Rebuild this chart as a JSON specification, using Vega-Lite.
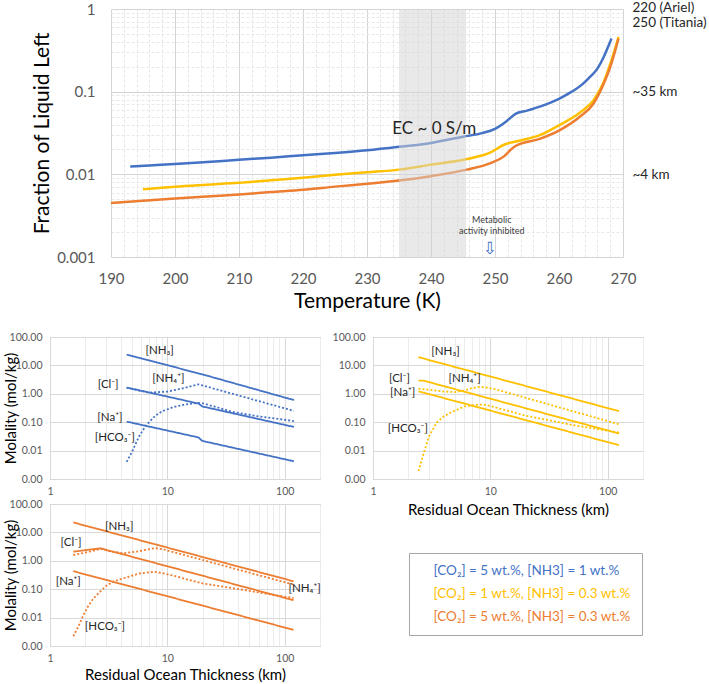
{
  "$schema": "https://vega.github.io/schema/vega-lite/v6.json",
  "padding": {"left": 2, "top": 0, "right": 0, "bottom": 0},
  "background": "white",
  "config": {
    "font": "Lato",
    "view": {"stroke": null},
    "axis": {"labelFont": "Lato", "titleFont": "Lato", "titleFontWeight": "normal", "ticks": false, "domain": false, "labelFlush": false},
    "text": {"font": "Lato"}
  },
  "datasets": {
    "top": [
      {"s": "[CO₂] = 5 wt.%, [NH3] = 1 wt.%", "T": 193, "f": 0.0124},
      {"s": "[CO₂] = 5 wt.%, [NH3] = 1 wt.%", "T": 196, "f": 0.0128},
      {"s": "[CO₂] = 5 wt.%, [NH3] = 1 wt.%", "T": 200, "f": 0.0133},
      {"s": "[CO₂] = 5 wt.%, [NH3] = 1 wt.%", "T": 205, "f": 0.0141},
      {"s": "[CO₂] = 5 wt.%, [NH3] = 1 wt.%", "T": 210, "f": 0.0150},
      {"s": "[CO₂] = 5 wt.%, [NH3] = 1 wt.%", "T": 215, "f": 0.0159},
      {"s": "[CO₂] = 5 wt.%, [NH3] = 1 wt.%", "T": 220, "f": 0.0170},
      {"s": "[CO₂] = 5 wt.%, [NH3] = 1 wt.%", "T": 225, "f": 0.0181},
      {"s": "[CO₂] = 5 wt.%, [NH3] = 1 wt.%", "T": 230, "f": 0.0195},
      {"s": "[CO₂] = 5 wt.%, [NH3] = 1 wt.%", "T": 235, "f": 0.0215},
      {"s": "[CO₂] = 5 wt.%, [NH3] = 1 wt.%", "T": 240, "f": 0.0240},
      {"s": "[CO₂] = 5 wt.%, [NH3] = 1 wt.%", "T": 245, "f": 0.0285},
      {"s": "[CO₂] = 5 wt.%, [NH3] = 1 wt.%", "T": 248, "f": 0.0315},
      {"s": "[CO₂] = 5 wt.%, [NH3] = 1 wt.%", "T": 250, "f": 0.0355},
      {"s": "[CO₂] = 5 wt.%, [NH3] = 1 wt.%", "T": 251.8, "f": 0.044},
      {"s": "[CO₂] = 5 wt.%, [NH3] = 1 wt.%", "T": 253.2, "f": 0.054},
      {"s": "[CO₂] = 5 wt.%, [NH3] = 1 wt.%", "T": 255, "f": 0.059},
      {"s": "[CO₂] = 5 wt.%, [NH3] = 1 wt.%", "T": 257, "f": 0.066},
      {"s": "[CO₂] = 5 wt.%, [NH3] = 1 wt.%", "T": 260, "f": 0.082},
      {"s": "[CO₂] = 5 wt.%, [NH3] = 1 wt.%", "T": 262, "f": 0.100},
      {"s": "[CO₂] = 5 wt.%, [NH3] = 1 wt.%", "T": 263.5, "f": 0.120},
      {"s": "[CO₂] = 5 wt.%, [NH3] = 1 wt.%", "T": 265, "f": 0.155},
      {"s": "[CO₂] = 5 wt.%, [NH3] = 1 wt.%", "T": 266, "f": 0.190},
      {"s": "[CO₂] = 5 wt.%, [NH3] = 1 wt.%", "T": 267, "f": 0.265},
      {"s": "[CO₂] = 5 wt.%, [NH3] = 1 wt.%", "T": 268.2, "f": 0.44},
      {"s": "[CO₂] = 1 wt.%, [NH3] = 0.3 wt.%", "T": 195, "f": 0.0066},
      {"s": "[CO₂] = 1 wt.%, [NH3] = 0.3 wt.%", "T": 200, "f": 0.0071},
      {"s": "[CO₂] = 1 wt.%, [NH3] = 0.3 wt.%", "T": 205, "f": 0.0075},
      {"s": "[CO₂] = 1 wt.%, [NH3] = 0.3 wt.%", "T": 210, "f": 0.0079},
      {"s": "[CO₂] = 1 wt.%, [NH3] = 0.3 wt.%", "T": 215, "f": 0.0085},
      {"s": "[CO₂] = 1 wt.%, [NH3] = 0.3 wt.%", "T": 220, "f": 0.0091},
      {"s": "[CO₂] = 1 wt.%, [NH3] = 0.3 wt.%", "T": 225, "f": 0.0099},
      {"s": "[CO₂] = 1 wt.%, [NH3] = 0.3 wt.%", "T": 230, "f": 0.0106},
      {"s": "[CO₂] = 1 wt.%, [NH3] = 0.3 wt.%", "T": 235, "f": 0.0114},
      {"s": "[CO₂] = 1 wt.%, [NH3] = 0.3 wt.%", "T": 240, "f": 0.0131},
      {"s": "[CO₂] = 1 wt.%, [NH3] = 0.3 wt.%", "T": 245.6, "f": 0.0153},
      {"s": "[CO₂] = 1 wt.%, [NH3] = 0.3 wt.%", "T": 249.3, "f": 0.0184},
      {"s": "[CO₂] = 1 wt.%, [NH3] = 0.3 wt.%", "T": 251.4, "f": 0.0228},
      {"s": "[CO₂] = 1 wt.%, [NH3] = 0.3 wt.%", "T": 254, "f": 0.0257},
      {"s": "[CO₂] = 1 wt.%, [NH3] = 0.3 wt.%", "T": 257.1, "f": 0.030},
      {"s": "[CO₂] = 1 wt.%, [NH3] = 0.3 wt.%", "T": 260.2, "f": 0.040},
      {"s": "[CO₂] = 1 wt.%, [NH3] = 0.3 wt.%", "T": 263.3, "f": 0.056},
      {"s": "[CO₂] = 1 wt.%, [NH3] = 0.3 wt.%", "T": 265.4, "f": 0.079},
      {"s": "[CO₂] = 1 wt.%, [NH3] = 0.3 wt.%", "T": 266.9, "f": 0.126},
      {"s": "[CO₂] = 1 wt.%, [NH3] = 0.3 wt.%", "T": 268.2, "f": 0.24},
      {"s": "[CO₂] = 1 wt.%, [NH3] = 0.3 wt.%", "T": 269.3, "f": 0.46},
      {"s": "[CO₂] = 5 wt.%, [NH3] = 0.3 wt.%", "T": 190, "f": 0.0045},
      {"s": "[CO₂] = 5 wt.%, [NH3] = 0.3 wt.%", "T": 195, "f": 0.0048},
      {"s": "[CO₂] = 5 wt.%, [NH3] = 0.3 wt.%", "T": 200, "f": 0.0051},
      {"s": "[CO₂] = 5 wt.%, [NH3] = 0.3 wt.%", "T": 205, "f": 0.0054},
      {"s": "[CO₂] = 5 wt.%, [NH3] = 0.3 wt.%", "T": 210, "f": 0.0057},
      {"s": "[CO₂] = 5 wt.%, [NH3] = 0.3 wt.%", "T": 215, "f": 0.0061},
      {"s": "[CO₂] = 5 wt.%, [NH3] = 0.3 wt.%", "T": 220, "f": 0.0065},
      {"s": "[CO₂] = 5 wt.%, [NH3] = 0.3 wt.%", "T": 225, "f": 0.0071},
      {"s": "[CO₂] = 5 wt.%, [NH3] = 0.3 wt.%", "T": 230, "f": 0.0077},
      {"s": "[CO₂] = 5 wt.%, [NH3] = 0.3 wt.%", "T": 235, "f": 0.0084},
      {"s": "[CO₂] = 5 wt.%, [NH3] = 0.3 wt.%", "T": 240, "f": 0.0095},
      {"s": "[CO₂] = 5 wt.%, [NH3] = 0.3 wt.%", "T": 245.6, "f": 0.0114},
      {"s": "[CO₂] = 5 wt.%, [NH3] = 0.3 wt.%", "T": 249.3, "f": 0.0137},
      {"s": "[CO₂] = 5 wt.%, [NH3] = 0.3 wt.%", "T": 251.4, "f": 0.0165},
      {"s": "[CO₂] = 5 wt.%, [NH3] = 0.3 wt.%", "T": 252.5, "f": 0.020},
      {"s": "[CO₂] = 5 wt.%, [NH3] = 0.3 wt.%", "T": 253.2, "f": 0.022},
      {"s": "[CO₂] = 5 wt.%, [NH3] = 0.3 wt.%", "T": 257.1, "f": 0.027},
      {"s": "[CO₂] = 5 wt.%, [NH3] = 0.3 wt.%", "T": 260.2, "f": 0.0345},
      {"s": "[CO₂] = 5 wt.%, [NH3] = 0.3 wt.%", "T": 263.3, "f": 0.050},
      {"s": "[CO₂] = 5 wt.%, [NH3] = 0.3 wt.%", "T": 265.4, "f": 0.072},
      {"s": "[CO₂] = 5 wt.%, [NH3] = 0.3 wt.%", "T": 266.9, "f": 0.12},
      {"s": "[CO₂] = 5 wt.%, [NH3] = 0.3 wt.%", "T": 268.2, "f": 0.22},
      {"s": "[CO₂] = 5 wt.%, [NH3] = 0.3 wt.%", "T": 269.3, "f": 0.44}
    ],
    "blue": [
      {"sp": "NH3", "km": 4.5, "m": 24}, {"sp": "NH3", "km": 20, "m": 4.8}, {"sp": "NH3", "km": 120, "m": 0.6},
      {"sp": "Cl-", "km": 4.5, "m": 1.66}, {"sp": "Cl-", "km": 10, "m": 0.8}, {"sp": "Cl-", "km": 18.5, "m": 0.45}, {"sp": "Cl-", "km": 19.8, "m": 0.36}, {"sp": "Cl-", "km": 120, "m": 0.068},
      {"sp": "Na+", "km": 4.5, "m": 0.105}, {"sp": "Na+", "km": 18.5, "m": 0.029}, {"sp": "Na+", "km": 19.8, "m": 0.022}, {"sp": "Na+", "km": 120, "m": 0.0042},
      {"sp": "NH4+", "km": 4.5, "m": 1.66}, {"sp": "NH4+", "km": 5.5, "m": 1.35}, {"sp": "NH4+", "km": 7, "m": 1.1}, {"sp": "NH4+", "km": 10, "m": 1.2}, {"sp": "NH4+", "km": 14, "m": 1.6}, {"sp": "NH4+", "km": 18.5, "m": 2.15}, {"sp": "NH4+", "km": 120, "m": 0.25},
      {"sp": "HCO3-", "km": 4.5, "m": 0.004}, {"sp": "HCO3-", "km": 5, "m": 0.009}, {"sp": "HCO3-", "km": 5.7, "m": 0.03}, {"sp": "HCO3-", "km": 6.5, "m": 0.072}, {"sp": "HCO3-", "km": 7.9, "m": 0.17}, {"sp": "HCO3-", "km": 9, "m": 0.24}, {"sp": "HCO3-", "km": 11, "m": 0.33}, {"sp": "HCO3-", "km": 14, "m": 0.42}, {"sp": "HCO3-", "km": 18.5, "m": 0.48}, {"sp": "HCO3-", "km": 20, "m": 0.46}, {"sp": "HCO3-", "km": 25, "m": 0.36}, {"sp": "HCO3-", "km": 36, "m": 0.23}, {"sp": "HCO3-", "km": 60, "m": 0.16}, {"sp": "HCO3-", "km": 120, "m": 0.11}
    ],
    "yellow": [
      {"sp": "NH3", "km": 2.44, "m": 19.5}, {"sp": "NH3", "km": 125, "m": 0.245},
      {"sp": "Cl-", "km": 2.44, "m": 2.9}, {"sp": "Cl-", "km": 2.7, "m": 2.9}, {"sp": "Cl-", "km": 125, "m": 0.04},
      {"sp": "Na+", "km": 2.44, "m": 1.23}, {"sp": "Na+", "km": 125, "m": 0.0155},
      {"sp": "NH4+", "km": 2.44, "m": 1.5}, {"sp": "NH4+", "km": 3, "m": 1.4}, {"sp": "NH4+", "km": 4, "m": 1.2}, {"sp": "NH4+", "km": 5, "m": 1.15}, {"sp": "NH4+", "km": 6, "m": 1.3}, {"sp": "NH4+", "km": 7, "m": 1.6}, {"sp": "NH4+", "km": 8.1, "m": 1.75}, {"sp": "NH4+", "km": 9, "m": 1.7}, {"sp": "NH4+", "km": 11, "m": 1.45}, {"sp": "NH4+", "km": 125, "m": 0.084},
      {"sp": "HCO3-", "km": 2.44, "m": 0.0019}, {"sp": "HCO3-", "km": 2.7, "m": 0.008}, {"sp": "HCO3-", "km": 3, "m": 0.032}, {"sp": "HCO3-", "km": 3.5, "m": 0.098}, {"sp": "HCO3-", "km": 4, "m": 0.16}, {"sp": "HCO3-", "km": 4.6, "m": 0.22}, {"sp": "HCO3-", "km": 6, "m": 0.36}, {"sp": "HCO3-", "km": 8, "m": 0.42}, {"sp": "HCO3-", "km": 9, "m": 0.41}, {"sp": "HCO3-", "km": 10, "m": 0.37}, {"sp": "HCO3-", "km": 20, "m": 0.17}, {"sp": "HCO3-", "km": 50, "m": 0.08}, {"sp": "HCO3-", "km": 125, "m": 0.043}
    ],
    "orange": [
      {"sp": "NH3", "km": 1.58, "m": 22.4}, {"sp": "NH3", "km": 119, "m": 0.19},
      {"sp": "Cl-", "km": 1.58, "m": 2.1}, {"sp": "Cl-", "km": 2.7, "m": 2.75}, {"sp": "Cl-", "km": 119, "m": 0.041},
      {"sp": "Na+", "km": 1.58, "m": 0.43}, {"sp": "Na+", "km": 119, "m": 0.0037},
      {"sp": "NH4+", "km": 1.58, "m": 1.6}, {"sp": "NH4+", "km": 2.0, "m": 1.95}, {"sp": "NH4+", "km": 2.7, "m": 2.6}, {"sp": "NH4+", "km": 3.2, "m": 2.2}, {"sp": "NH4+", "km": 4.2, "m": 1.85}, {"sp": "NH4+", "km": 5.5, "m": 2.1}, {"sp": "NH4+", "km": 7.8, "m": 2.8}, {"sp": "NH4+", "km": 9, "m": 2.6}, {"sp": "NH4+", "km": 119, "m": 0.145},
      {"sp": "HCO3-", "km": 1.58, "m": 0.0022}, {"sp": "HCO3-", "km": 1.75, "m": 0.005}, {"sp": "HCO3-", "km": 1.92, "m": 0.012}, {"sp": "HCO3-", "km": 2.1, "m": 0.024}, {"sp": "HCO3-", "km": 2.34, "m": 0.047}, {"sp": "HCO3-", "km": 2.7, "m": 0.085}, {"sp": "HCO3-", "km": 3.0, "m": 0.13}, {"sp": "HCO3-", "km": 3.5, "m": 0.19}, {"sp": "HCO3-", "km": 4.2, "m": 0.24}, {"sp": "HCO3-", "km": 5.8, "m": 0.36}, {"sp": "HCO3-", "km": 7.8, "m": 0.41}, {"sp": "HCO3-", "km": 9, "m": 0.37}, {"sp": "HCO3-", "km": 11.2, "m": 0.3}, {"sp": "HCO3-", "km": 20, "m": 0.16}, {"sp": "HCO3-", "km": 38, "m": 0.105}, {"sp": "HCO3-", "km": 75, "m": 0.066}, {"sp": "HCO3-", "km": 119, "m": 0.049}
    ],
    "labels": [
      {"p": "blue", "km": 8.6, "m": 32, "lab": "[NH₃]"},
      {"p": "blue", "km": 10.2, "m": 3.24, "lab": "[NH₄⁺]"},
      {"p": "blue", "km": 3.13, "m": 2.04, "lab": "[Cl⁻]"},
      {"p": "blue", "km": 3.24, "m": 0.145, "lab": "[Na⁺]"},
      {"p": "blue", "km": 3.57, "m": 0.027, "lab": "[HCO₃⁻]"},
      {"p": "yellow", "km": 4.15, "m": 30.6, "lab": "[NH₃]"},
      {"p": "yellow", "km": 1.68, "m": 3.4, "lab": "[Cl⁻]"},
      {"p": "yellow", "km": 6.03, "m": 3.4, "lab": "[NH₄⁺]"},
      {"p": "yellow", "km": 1.79, "m": 1.07, "lab": "[Na⁺]"},
      {"p": "yellow", "km": 1.98, "m": 0.056, "lab": "[HCO₃⁻]"},
      {"p": "orange", "km": 3.89, "m": 15.3, "lab": "[NH₃]"},
      {"p": "orange", "km": 1.51, "m": 4.14, "lab": "[Cl⁻]"},
      {"p": "orange", "km": 1.43, "m": 0.18, "lab": "[Na⁺]"},
      {"p": "orange", "km": 148, "m": 0.1, "lab": "[NH₄⁺]"},
      {"p": "orange", "km": 2.94, "m": 0.0046, "lab": "[HCO₃⁻]"}
    ]
  },
  "spacing": 20,
  "vconcat": [
    {
      "spacing": -20,
      "hconcat": [
        {"width": 1, "height": 1, "data": {"values": []}, "mark": "point", "encoding": {}},
        {
          "width": 512,
          "height": 248,
          "layer": [
            {
              "data": {"name": "top"},
              "mark": {"type": "line", "strokeWidth": 2.5, "interpolate": "monotone"},
              "encoding": {
                "x": {"field": "T", "type": "quantitative", "scale": {"domain": [190, 270], "nice": false, "zero": false},
                  "axis": {"title": "Temperature (K)", "orient": "bottom", "values": [190, 200, 210, 220, 230, 240, 250, 260, 270],
                    "gridColor": "#d4d4d4", "labelFontSize": 15, "labelColor": "#595959", "labelPadding": 14, "titleFontSize": 21, "titleColor": "#000000", "titlePadding": 4}},
                "y": {"field": "f", "type": "quantitative", "scale": {"type": "log", "domain": [0.001, 1], "nice": false},
                  "axis": {"title": "Fraction of Liquid Left", "orient": "left", "format": "~g",
                    "values": [0.001,0.002,0.003,0.004,0.005,0.006,0.007,0.008,0.009,0.01,0.02,0.03,0.04,0.05,0.06,0.07,0.08,0.09,0.1,0.2,0.3,0.4,0.5,0.6,0.7,0.8,0.9,1],
                    "labelExpr": "indexof([0.001,0.01,0.1,1], datum.value) >= 0 ? datum.label : ''",
                    "gridColor": {"condition": {"test": "indexof([0.001,0.01,0.1,1], datum.value) >= 0", "value": "#d4d4d4"}, "value": "#e8e8e8"},
                    "gridDash": {"condition": {"test": "indexof([0.001,0.01,0.1,1], datum.value) >= 0", "value": []}, "value": [3, 2]},
                    "labelFontSize": 15, "labelColor": "#595959", "labelPadding": 16, "titleFontSize": 21, "titleColor": "#000000", "titlePadding": 4}},
                "color": {"field": "s", "type": "nominal",
                  "scale": {"domain": ["[CO₂] = 5 wt.%, [NH3] = 1 wt.%", "[CO₂] = 1 wt.%, [NH3] = 0.3 wt.%", "[CO₂] = 5 wt.%, [NH3] = 0.3 wt.%"], "range": ["#4472C4", "#FFC000", "#ED7D31"]},
                  "legend": {"title": null, "orient": "none", "legendX": 359, "legendY": 544, "labelFontSize": 13.5, "labelFont": "Lato",
                    "labelColor": {"expr": "scale('color', datum.value)"}, "symbolOpacity": 0, "symbolSize": 0, "symbolStrokeWidth": 0,
                    "labelOffset": 0, "rowPadding": 8, "padding": 11, "strokeColor": "#a6a6a6", "fillColor": "#ffffff", "labelLimit": 400}}
              }
            },
            {
              "data": {"values": [{"a": 235, "b": 245.5}]},
              "mark": {"type": "rect", "color": "#d4d4d4", "opacity": 0.5},
              "encoding": {
                "x": {"field": "a", "type": "quantitative", "scale": {"domain": [190, 270], "nice": false, "zero": false},
                  "axis": {"orient": "bottom", "title": null, "labels": false, "grid": true, "gridColor": "#e6e6e6", "gridDash": [3, 2],
                    "values": [192,194,196,198,202,204,206,208,212,214,216,218,222,224,226,228,232,234,236,238,242,244,246,248,252,254,256,258,262,264,266,268]}},
                "x2": {"field": "b"}
              }
            },
            {
              "data": {"values": [{"T": 240.5, "f": 0.035, "t": "EC ~ 0 S/m"}]},
              "mark": {"type": "text", "fontSize": 17, "color": "#262626"},
              "encoding": {
                "x": {"field": "T", "type": "quantitative", "scale": {"domain": [190, 270], "nice": false, "zero": false}, "axis": null},
                "y": {"field": "f", "type": "quantitative", "scale": {"type": "log", "domain": [0.001, 1], "nice": false},
                  "axis": {"orient": "right", "title": null, "values": [1, 0.1, 0.01], "grid": false,
                    "labelExpr": "datum.value == 1 ? ['220 (Ariel)', '250 (Titania)'] : datum.value == 0.1 ? '~35 km' : '~4 km'",
                    "labelOffset": {"condition": {"test": "datum.value == 1", "value": -2}, "value": 0},
                    "labelFontSize": 13.5, "labelColor": "#262626", "labelPadding": 9, "labelLineHeight": 15.5}},
                "text": {"field": "t"}
              }
            },
            {
              "data": {"values": [{"T": 249.5, "f": 0.0028, "t": "Metabolic"}, {"T": 249.5, "f": 0.00205, "t": "activity inhibited"}]},
              "mark": {"type": "text", "fontSize": 9, "color": "#404040"},
              "encoding": {
                "x": {"field": "T", "type": "quantitative", "scale": {"domain": [190, 270], "nice": false, "zero": false}, "axis": null},
                "y": {"field": "f", "type": "quantitative", "scale": {"type": "log", "domain": [0.001, 1], "nice": false}, "axis": null},
                "text": {"field": "t"}
              }
            },
            {
              "data": {"values": [{"T": 249.2, "f": 0.00125, "t": "⇩"}]},
              "mark": {"type": "text", "fontSize": 17, "font": "DejaVu Sans", "color": "#4472C4"},
              "encoding": {
                "x": {"field": "T", "type": "quantitative", "scale": {"domain": [190, 270], "nice": false, "zero": false}, "axis": null},
                "y": {"field": "f", "type": "quantitative", "scale": {"type": "log", "domain": [0.001, 1], "nice": false}, "axis": null},
                "text": {"field": "t"}
              }
            }
          ],
          "resolve": {"axis": {"x": "independent", "y": "independent"}}
        }
      ]
    },
    {
      "columns": 2,
      "spacing": {"row": 25, "column": 53},
      "bounds": "flush",
      "concat": [
        {
          "width": 270,
          "height": 142,
          "view": {"stroke": "#a6a6a6"},
          "layer": [
            {
              "data": {"name": "blue"},
              "mark": {"type": "line", "color": "#4472C4", "strokeWidth": 1.8},
              "encoding": {
                "x": {"field": "km", "type": "quantitative", "scale": {"type": "log", "domain": [1, 200], "nice": false},
                  "axis": {"title": null, "values": [1,2,3,4,5,6,7,8,9,10,20,30,40,50,60,70,80,90,100,200], "format": "~g",
                    "labelExpr": "indexof([1,10,100], datum.value) >= 0 ? datum.label : ''",
                    "gridColor": {"condition": {"test": "indexof([1,10,100], datum.value) >= 0", "value": "#d9d9d9"}, "value": "#ececec"},
                    "labelFontSize": 10.5, "labelColor": "#595959", "labelPadding": 7}},
                "y": {"field": "m", "type": "quantitative", "scale": {"type": "log", "domain": [0.001, 100], "nice": false},
                  "axis": {"title": "Molality (mol/kg)", "values": [0.001, 0.01, 0.1, 1, 10, 100], "format": ".2f", "gridColor": "#d9d9d9",
                    "labelFontSize": 10.5, "labelColor": "#595959", "labelPadding": 8, "titleFontSize": 15, "titleColor": "#000000", "titleX": -32}},
                "strokeDash": {"field": "sp", "type": "nominal", "scale": {"domain": ["NH3", "Cl-", "Na+", "NH4+", "HCO3-"], "range": [[1, 0], [1, 0], [1, 0], [2, 2], [2, 2]]}, "legend": null}
              }
            },
            {
              "data": {"name": "labels"},
              "transform": [{"filter": "datum.p == 'blue'"}],
              "mark": {"type": "text", "fontSize": 11.5, "color": "#262626"},
              "encoding": {
                "x": {"field": "km", "type": "quantitative", "scale": {"type": "log", "domain": [1, 200], "nice": false}},
                "y": {"field": "m", "type": "quantitative", "scale": {"type": "log", "domain": [0.001, 100], "nice": false}},
                "text": {"field": "lab"}
              }
            }
          ]
        },
        {
          "width": 270,
          "height": 142,
          "view": {"stroke": "#a6a6a6"},
          "layer": [
            {
              "data": {"name": "yellow"},
              "mark": {"type": "line", "color": "#FFC000", "strokeWidth": 1.8},
              "encoding": {
                "x": {"field": "km", "type": "quantitative", "scale": {"type": "log", "domain": [1, 200], "nice": false},
                  "axis": {"title": "Residual Ocean Thickness (km)", "values": [1,2,3,4,5,6,7,8,9,10,20,30,40,50,60,70,80,90,100,200], "format": "~g",
                    "labelExpr": "indexof([1,10,100], datum.value) >= 0 ? datum.label : ''",
                    "gridColor": {"condition": {"test": "indexof([1,10,100], datum.value) >= 0", "value": "#d9d9d9"}, "value": "#ececec"},
                    "labelFontSize": 10.5, "labelColor": "#595959", "labelPadding": 7, "titleFontSize": 15, "titleColor": "#000000", "titlePadding": 6}},
                "y": {"field": "m", "type": "quantitative", "scale": {"type": "log", "domain": [0.001, 100], "nice": false},
                  "axis": {"title": null, "values": [0.001, 0.01, 0.1, 1, 10, 100], "format": ".2f", "gridColor": "#d9d9d9",
                    "labelFontSize": 10.5, "labelColor": "#595959", "labelPadding": 8}},
                "strokeDash": {"field": "sp", "type": "nominal", "scale": {"domain": ["NH3", "Cl-", "Na+", "NH4+", "HCO3-"], "range": [[1, 0], [1, 0], [1, 0], [2, 2], [2, 2]]}, "legend": null}
              }
            },
            {
              "data": {"name": "labels"},
              "transform": [{"filter": "datum.p == 'yellow'"}],
              "mark": {"type": "text", "fontSize": 11.5, "color": "#262626"},
              "encoding": {
                "x": {"field": "km", "type": "quantitative", "scale": {"type": "log", "domain": [1, 200], "nice": false}},
                "y": {"field": "m", "type": "quantitative", "scale": {"type": "log", "domain": [0.001, 100], "nice": false}},
                "text": {"field": "lab"}
              }
            }
          ]
        },
        {
          "width": 270,
          "height": 142,
          "view": {"stroke": "#a6a6a6"},
          "layer": [
            {
              "data": {"name": "orange"},
              "mark": {"type": "line", "color": "#ED7D31", "strokeWidth": 1.8},
              "encoding": {
                "x": {"field": "km", "type": "quantitative", "scale": {"type": "log", "domain": [1, 200], "nice": false},
                  "axis": {"title": "Residual Ocean Thickness (km)", "values": [1,2,3,4,5,6,7,8,9,10,20,30,40,50,60,70,80,90,100,200], "format": "~g",
                    "labelExpr": "indexof([1,10,100], datum.value) >= 0 ? datum.label : ''",
                    "gridColor": {"condition": {"test": "indexof([1,10,100], datum.value) >= 0", "value": "#d9d9d9"}, "value": "#ececec"},
                    "labelFontSize": 10.5, "labelColor": "#595959", "labelPadding": 7, "titleFontSize": 15, "titleColor": "#000000", "titlePadding": 4}},
                "y": {"field": "m", "type": "quantitative", "scale": {"type": "log", "domain": [0.001, 100], "nice": false},
                  "axis": {"title": "Molality (mol/kg)", "values": [0.001, 0.01, 0.1, 1, 10, 100], "format": ".2f", "gridColor": "#d9d9d9",
                    "labelFontSize": 10.5, "labelColor": "#595959", "labelPadding": 8, "titleFontSize": 15, "titleColor": "#000000", "titleX": -32}},
                "strokeDash": {"field": "sp", "type": "nominal", "scale": {"domain": ["NH3", "Cl-", "Na+", "NH4+", "HCO3-"], "range": [[1, 0], [1, 0], [1, 0], [2, 2], [2, 2]]}, "legend": null}
              }
            },
            {
              "data": {"name": "labels"},
              "transform": [{"filter": "datum.p == 'orange'"}],
              "mark": {"type": "text", "fontSize": 11.5, "color": "#262626"},
              "encoding": {
                "x": {"field": "km", "type": "quantitative", "scale": {"type": "log", "domain": [1, 200], "nice": false}},
                "y": {"field": "m", "type": "quantitative", "scale": {"type": "log", "domain": [0.001, 100], "nice": false}},
                "text": {"field": "lab"}
              }
            }
          ]
        }
      ]
    }
  ]
}
